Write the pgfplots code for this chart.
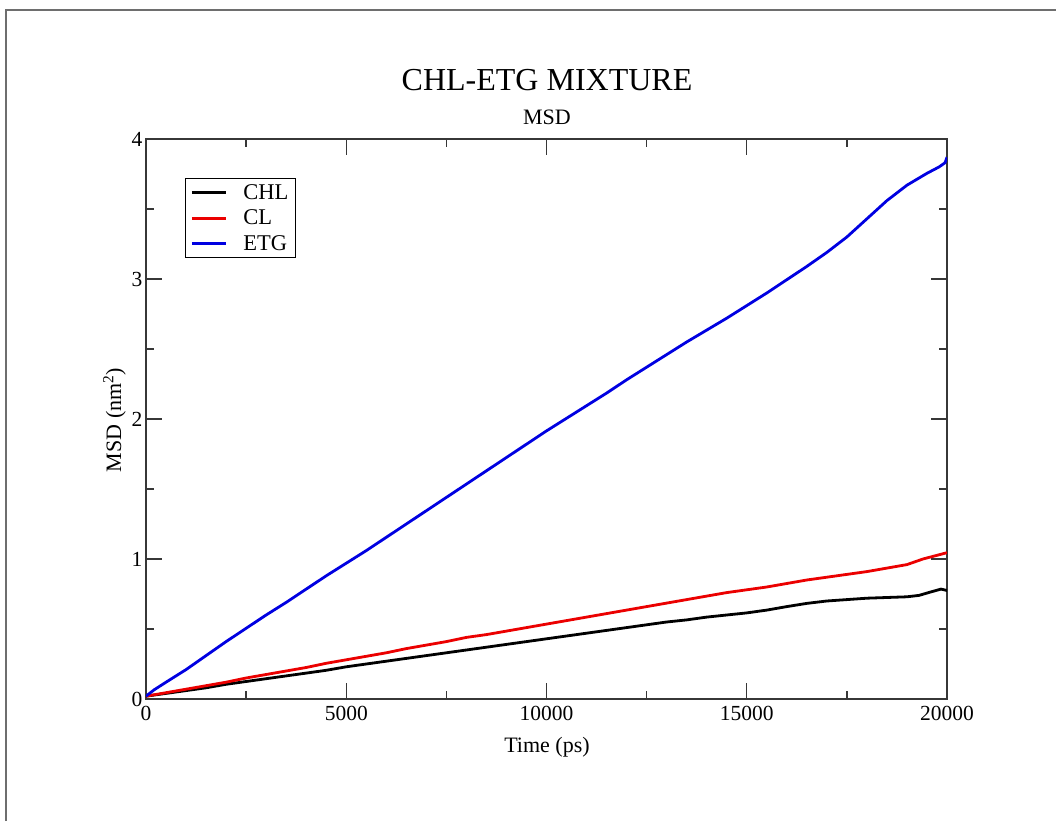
\documentclass[border=0pt]{standalone}
\usepackage{fontspec}
\setmainfont{Liberation Serif}
\usepackage{pgfplots}
\pgfplotsset{compat=1.18}

\definecolor{framegray}{RGB}{110,110,110}
\definecolor{axisgray}{RGB}{55,55,55}
\definecolor{etgblue}{RGB}{0,0,225}
\definecolor{clred}{RGB}{235,0,0}

\begin{document}
\begin{tikzpicture}
\path[use as bounding box] (0pt,0pt) rectangle (1056pt,821pt);
\draw[framegray, line width=1.7pt] (6pt,0pt) -- (6pt,811pt) -- (1056pt,811pt);

\begin{axis}[
  at={(146pt,122pt)}, anchor=south west,
  scale only axis, width=801pt, height=560pt,
  xmin=0, xmax=20000, ymin=0, ymax=4,
  xtick={0,5000,10000,15000,20000},
  ytick={0,1,2,3,4},
  minor x tick num=1, minor y tick num=1,
  tick align=inside,
  major tick length=16pt, minor tick length=8pt,
  axis line style={axisgray, line width=1.4pt},
  every tick/.style={axisgray, line width=1.4pt},
  ticklabel style={font=\fontsize{21.5}{21.5}\selectfont},
  xticklabel style={yshift=-4pt},
  /pgf/number format/assume math mode=true,
  /pgf/number format/1000 sep={},
  scaled x ticks=false,
  legend style={at={(axis description cs:0.0487,0.930)}, anchor=north west,
    draw=black, line width=0.9pt, font=\fontsize{22.5}{22.5}\selectfont,
    row sep=5pt, inner xsep=5pt, inner ysep=4pt,
    cells={anchor=west}},
  legend image code/.code={\draw[#1] (0pt,0pt) -- (34pt,0pt); \path (48pt,0pt);},
  every axis plot/.append style={line width=2.8pt, line join=round},
]

% CHL
\addplot[black] coordinates {
(0,0.02) (500,0.04) (1000,0.06) (1500,0.08) (2000,0.105) (2500,0.125)
(3000,0.145) (3500,0.165) (4000,0.185) (4500,0.205) (5000,0.23) (5500,0.25)
(6000,0.27) (6500,0.29) (7000,0.31) (7500,0.33) (8000,0.35) (8500,0.37)
(9000,0.39) (9500,0.41) (10000,0.43) (10500,0.45) (11000,0.47) (11500,0.49)
(12000,0.51) (12500,0.53) (13000,0.55) (13500,0.565) (14000,0.585) (14500,0.60)
(15000,0.615) (15500,0.635) (16000,0.66) (16500,0.683) (17000,0.70) (17500,0.71)
(18000,0.72) (18500,0.725) (19000,0.73) (19300,0.74) (19600,0.765) (19850,0.785)
(20000,0.775)
};
\addlegendentry{CHL}

% CL
\addplot[clred] coordinates {
(0,0.02) (500,0.045) (1000,0.07) (1500,0.095) (2000,0.12) (2500,0.15)
(3000,0.175) (3500,0.20) (4000,0.225) (4500,0.255) (5000,0.28) (5500,0.305)
(6000,0.33) (6500,0.36) (7000,0.385) (7500,0.41) (8000,0.44) (8500,0.46)
(9000,0.485) (9500,0.51) (10000,0.535) (10500,0.56) (11000,0.585) (11500,0.61)
(12000,0.635) (12500,0.66) (13000,0.685) (13500,0.71) (14000,0.735) (14500,0.76)
(15000,0.78) (15500,0.80) (16000,0.825) (16500,0.85) (17000,0.87) (17500,0.89)
(18000,0.91) (18500,0.935) (19000,0.96) (19400,1.00) (19800,1.03) (20000,1.045)
};
\addlegendentry{CL}

% ETG
\addplot[etgblue] coordinates {
(0,0.02) (200,0.065) (500,0.12) (1000,0.21) (1500,0.31) (2000,0.41)
(2500,0.505) (3000,0.60) (3500,0.69) (4000,0.785) (4500,0.88) (5000,0.97)
(5500,1.06) (6000,1.155) (6500,1.25) (7000,1.345) (7500,1.44) (8000,1.535)
(8500,1.63) (9000,1.725) (9500,1.82) (10000,1.915) (10500,2.005) (11000,2.095)
(11500,2.185) (12000,2.28) (12500,2.37) (13000,2.46) (13500,2.55) (14000,2.635)
(14500,2.72) (15000,2.81) (15500,2.90) (16000,2.995) (16500,3.09) (17000,3.19)
(17500,3.30) (18000,3.43) (18500,3.56) (19000,3.67) (19500,3.755) (19800,3.80)
(19950,3.83) (20000,3.87)
};
\addlegendentry{ETG}

\end{axis}

\node[font=\fontsize{32}{32}\selectfont] at (547pt,741pt) {CHL-ETG MIXTURE};
\node[font=\fontsize{22}{22}\selectfont] at (547pt,704pt) {MSD};
\node[font=\fontsize{22}{22}\selectfont, anchor=base] at (547pt,68pt) {Time (ps)};
\node[font=\fontsize{22}{22}\selectfont, anchor=base, rotate=90] at (121pt,401pt) {MSD (nm\textsuperscript{2})};
\end{tikzpicture}
\end{document}
